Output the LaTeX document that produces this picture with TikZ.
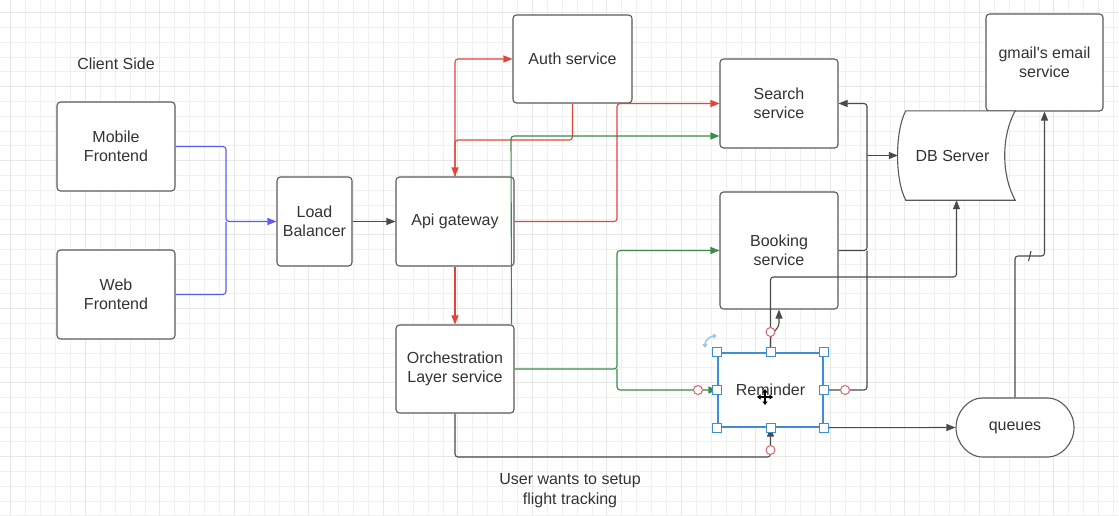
\documentclass[tikz,border=0pt]{standalone}
\usepackage{fontspec}
\setmainfont{Liberation Sans}
\usetikzlibrary{arrows.meta,shapes.misc}
\definecolor{gridc}{HTML}{F0F0F0}
\definecolor{gridm}{HTML}{E7E7E7}
\definecolor{boxc}{HTML}{5A5A5A}
\definecolor{txtc}{HTML}{333333}
\definecolor{redc}{HTML}{E5433A}
\definecolor{greenc}{HTML}{3A8A48}
\definecolor{bluec}{HTML}{5C5CF0}
\definecolor{selc}{HTML}{3D8FD1}
\definecolor{circc}{HTML}{D9636B}
\definecolor{linec}{HTML}{4A4A4A}
\tikzset{
  box/.style={draw=boxc, line width=1.1pt, rounded corners=3.5pt, fill=white, align=center,
    text=txtc, font=\fontsize{16}{19.5}\selectfont, inner sep=0pt},
  lbl/.style={align=center, text=txtc, font=\fontsize{16}{19.5}\selectfont, inner sep=0pt},
  tip/.style={-{Triangle[length=9pt,width=7pt]}},
  conn/.style={line width=1.1pt, rounded corners=3pt},
  redl/.style={conn, draw=redc, tip},
  greenl/.style={conn, draw=greenc, tip},
  blackl/.style={conn, draw=linec, tip},
  bluel/.style={conn, draw=bluec, tip},
  hcirc/.style={circle, draw=circc, line width=1pt, fill=white, minimum size=9pt, inner sep=0pt},
  handle/.style={rectangle, draw=selc, line width=1pt, fill=white, minimum size=9pt, inner sep=0pt}
}
\begin{document}
\begin{tikzpicture}[x=1pt,y=-1pt]
\useasboundingbox (0,0) rectangle (1119,515);
\fill[white] (0,0) rectangle (1119,515);
% grid
\foreach \i in {0,...,75} {\draw[gridc, line width=1pt] ({10.9+\i*14.9},0) -- ({10.9+\i*14.9},515);}
\foreach \j in {0,...,35} {\draw[gridc, line width=1pt] (0,{12.7+\j*14.8}) -- (1119,{12.7+\j*14.8});}
\foreach \i in {0,...,15} {\draw[gridm, line width=1pt] ({10.9+\i*74.5},0) -- ({10.9+\i*74.5},515);}
\foreach \j in {0,...,7} {\draw[gridm, line width=1pt] (0,{12.7+\j*74}) -- (1119,{12.7+\j*74});}

% nodes
\node[lbl] (client) at (116,64) {Client Side};
\node[box, minimum width=118pt, minimum height=89pt] (mobile) at (116,146.5) {Mobile\\Frontend};
\node[box, minimum width=118pt, minimum height=89pt] (web) at (116,294.5) {Web\\Frontend};
\node[box, minimum width=75pt, minimum height=89pt] (lb) at (314.5,221.5) {Load\\Balancer};
\node[box, minimum width=118pt, minimum height=89pt] (api) at (455,221.5) {Api gateway};
\node[box, minimum width=119pt, minimum height=88pt] (auth) at (572.5,59) {Auth service};
\node[box, minimum width=118pt, minimum height=88pt] (orch) at (455,369) {Orchestration\\Layer service};
\node[box, minimum width=118pt, minimum height=89pt] (search) at (779,103.5) {Search\\service};
\node[box, minimum width=118pt, minimum height=117pt] (booking) at (779,250.5) {Booking\\service};
\node[box, minimum width=117pt, minimum height=97pt] (gmail) at (1044.5,62.5) {gmail\textquotesingle s email\\service};
\node[minimum width=117pt, minimum height=89pt, inner sep=0pt] (db) at (956.5,155.5) {};
\draw[boxc, line width=1.1pt, fill=white]
  ([xshift=8pt]db.north west) -- (db.north east)
  .. controls ([xshift=-14pt,yshift=-25pt]db.north east) and ([xshift=-14pt,yshift=25pt]db.south east) .. (db.south east)
  -- ([xshift=8pt]db.south west)
  .. controls ([xshift=-3pt,yshift=20pt]db.south west) and ([xshift=-3pt,yshift=-20pt]db.north west) .. ([xshift=8pt]db.north west) -- cycle;
\node[lbl] at ([xshift=-4pt]db.center) {DB Server};
\node[box, rounded rectangle, minimum width=118pt, minimum height=59pt] (queues) at (1015,427.5) {queues};
\node[draw=selc, line width=1.4pt, fill=white, minimum width=105pt, minimum height=74pt, inner sep=0pt,
  text=txtc, font=\fontsize{16}{19.5}\selectfont] (reminder) at (770.5,390) {Reminder};
\node[lbl] (note) at (570,490.5) {User wants to setup\\flight tracking};

% blue connectors
\draw[bluel] (mobile.east) -- (226,146.5) -- (226,221.5) -- (lb.west);
\draw[conn, draw=bluec] (web.east) -- (226,294.5) -- (226,221.5);
% black
\draw[blackl] (lb.east) -- (api.west);
% red
\draw[redl] (api.north) -- (455,59) -- (auth.west);
\draw[redl] (auth.south) -- (572.5,140) -- (455,140) -- (api.north);
\draw[redl] (api.east) -- (617,221.5) -- (617,103.5) -- (search.west);
\draw[redl] (api.south) -- (orch.north);
% green
\draw[greenl] ([xshift=-3pt]orch.north east) -- (511,136) -- (search.west |- 0,136);
\draw[greenl] (orch.east) -- (617,369) -- (617,250.5) -- (booking.west);
\draw[greenl] (617,369) -- (617,390) -- (reminder.west);
% black connectors
\draw[blackl] (orch.south) -- (455,457) -- (770.5,457) -- (reminder.south);
\draw[blackl] (reminder.north) -- (770.5,277) -- (956.5,277) -- (db.south);
\draw[blackl] (reminder.north) -- (770.5,336) -- (779,326) -- (booking.south);
\draw[blackl] (booking.east) -- (867,250.5) -- (867,103.5) -- (search.east);
\draw[blackl] (867,155.5) -- (db.west);
\draw[conn, draw=linec] (reminder.east) -- (867,390) -- (867,250.5);
\draw[blackl] (reminder.south east) -- (queues.west);
\draw[blackl] (queues.north) -- (1015,256) -- (1044.5,256) -- (gmail.south);
\draw[linec, line width=1.1pt] (1028.5,261) -- (1031,251);

% selection decorations
\foreach \a in {north west,north,north east,west,east,south west,south,south east}
  {\node[handle] at (reminder.\a) {};}
\node[hcirc] at (698,390) {};
\node[hcirc] at (845,390) {};
\node[hcirc] at (770.5,332) {};
\node[hcirc] at (770.5,450) {};
% rotate icon
\draw[selc!50, line width=1.6pt, {Triangle[length=4pt,width=5pt]}-{Triangle[length=4pt,width=5pt]}]
  (705,348) .. controls (705,340) and (711,336) .. (717,336);
% move cursor
\draw[black, line width=1.6pt, {Triangle[length=3.5pt,width=5pt]}-{Triangle[length=3.5pt,width=5pt]}] (757,397) -- (773,397);
\draw[black, line width=1.6pt, {Triangle[length=3.5pt,width=5pt]}-{Triangle[length=3.5pt,width=5pt]}] (765,389) -- (765,405);
\end{tikzpicture}
\end{document}
